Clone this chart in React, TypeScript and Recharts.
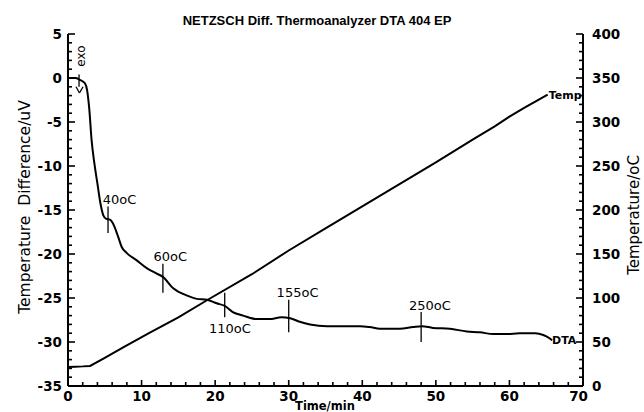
import React from "react";
import {
  ComposedChart,
  Line,
  XAxis,
  YAxis,
  ReferenceLine,
  ReferenceDot,
} from "recharts";

// DTA signal (uV) vs time (min)
const dtaTime = [
  0, 1, 1.6, 2.3, 2.6, 2.9, 3.2, 3.6, 4.0, 4.4, 4.8, 5.2, 5.7, 6.1, 6.8, 7.3,
  8.0, 9.3, 10.7, 12.0, 12.9, 14.3, 16.1, 17.5, 18.9, 20.2, 21.3, 22.4, 23.8,
  25.6, 27.4, 29.0, 30.2, 31.5, 32.9, 35.2, 37.4, 39.7, 41.0, 42.4, 45.1, 46.9,
  48.1, 49.6, 51.9, 54.2, 56.0, 57.8, 59.6, 61.4, 63.5, 64.6, 65.5, 65.8,
];
const dtaValue = [
  0.0, 0.0, -0.2, -0.6, -1.4, -3.6, -7.0, -9.8, -12.0, -14.2, -15.6, -16.0,
  -16.1, -16.5, -18.0, -19.2, -19.9, -20.7, -21.6, -22.2, -22.6, -23.9, -24.7,
  -25.1, -25.2, -25.6, -25.9, -26.6, -27.0, -27.4, -27.4, -27.2, -27.3, -27.7,
  -28.0, -28.2, -28.2, -28.2, -28.3, -28.5, -28.5, -28.3, -28.2, -28.4, -28.5,
  -28.8, -28.9, -29.1, -29.1, -29.0, -29.0, -29.2, -29.6, -29.8,
];

// furnace temperature (oC) vs time (min)
const tempTime = [0, 1, 2, 3, 5, 7.5, 11, 15, 19, 25, 30, 35, 40, 45, 50, 55, 58, 60, 62, 65.2];
const tempValue = [21.5, 22, 22.3, 22.8, 32, 44, 60, 78, 98, 127, 154, 179, 204, 229, 254, 280, 295, 306, 316, 331];

// peak markers: time, top/bottom of marker (uV), label and its anchor
const markTime = [5.44, 12.9, 21.3, 30.0, 48.0];
const markTop = [-14.6, -21.1, -24.4, -25.2, -26.6];
const markBottom = [-17.6, -24.4, -27.2, -28.9, -30.0];
const markLabel = ["40oC", "60oC", "110oC", "155oC", "250oC"];
const markLabelTime = [7.0, 13.9, 22.0, 31.2, 49.2];
const markLabelValue = [-13.75, -20.3, -28.4, -24.4, -25.8];

const xTicks = Array.from({ length: 36 }, (_, i) => i * 2);
const dtaTicks = Array.from({ length: 41 }, (_, i) => -35 + i);
const tempTicks = Array.from({ length: 41 }, (_, i) => i * 10);

const dtaData = dtaTime.map((t, i) => ({ t, dta: dtaValue[i] }));
const tempData = tempTime.map((t, i) => ({ t, temp: tempValue[i] }));

const tickFont = { fontFamily: "DejaVu Sans", fontWeight: 700, fontSize: 13.5 };

function BottomTick({ x, y, payload }: any) {
  const v = payload.value;
  const major = v % 10 === 0;
  return (
    <g>
      <line x1={x} x2={x} y1={y} y2={y - (major ? 6 : 4)} stroke="#000" strokeWidth={1.6} />
      {major && (
        <text
          x={v === 70 ? x + 5 : x}
          y={y + 10}
          dy="0.35em"
          textAnchor={v === 70 ? "end" : "middle"}
          fill="#000"
          {...tickFont}
        >
          {v}
        </text>
      )}
    </g>
  );
}

function LeftTick({ x, y, payload }: any) {
  const v = payload.value;
  const major = v % 5 === 0;
  return (
    <g>
      <line x1={x} x2={x + (major ? 7 : 4)} y1={y} y2={y} stroke="#000" strokeWidth={1.6} />
      {major && (
        <text x={x - 6} y={y} dy="0.35em" textAnchor="end" fill="#000" {...tickFont}>
          {v}
        </text>
      )}
    </g>
  );
}

function RightTick({ x, y, payload }: any) {
  const v = payload.value;
  const major = v % 50 === 0;
  return (
    <g>
      <line x1={x} x2={x - (major ? 7 : 4)} y1={y} y2={y} stroke="#000" strokeWidth={1.6} />
      {major && (
        <text x={x + 9} y={y} dy="0.35em" textAnchor="start" fill="#000" {...tickFont}>
          {v}
        </text>
      )}
    </g>
  );
}

const annFont = { fontFamily: "DejaVu Sans", fontSize: 13, fill: "#000" };

export default function App() {
  return (
    <div style={{ position: "absolute", left: 0, top: 0, width: 644, height: 412, background: "#fff" }}>
      <ComposedChart width={644} height={412} margin={{ top: 34, right: 0, bottom: 0, left: 0 }}>
        <XAxis
          type="number"
          dataKey="t"
          domain={[0, 70]}
          ticks={xTicks}
          interval={0}
          height={26}
          tickSize={0}
          tickMargin={0}
          tickLine={false}
          axisLine={{ stroke: "#000", strokeWidth: 2 }}
          tick={BottomTick}
        />
        <YAxis
          yAxisId="dta"
          orientation="left"
          domain={[-35, 5]}
          ticks={dtaTicks}
          interval={0}
          width={68}
          tickSize={0}
          tickMargin={0}
          tickLine={false}
          axisLine={{ stroke: "#000", strokeWidth: 2 }}
          tick={LeftTick}
        />
        <YAxis
          yAxisId="temp"
          orientation="right"
          domain={[0, 400]}
          ticks={tempTicks}
          interval={0}
          width={61}
          tickSize={0}
          tickMargin={0}
          tickLine={false}
          axisLine={{ stroke: "#000", strokeWidth: 2 }}
          tick={RightTick}
        />
        <Line
          yAxisId="temp"
          data={tempData}
          dataKey="temp"
          type="linear"
          stroke="#000"
          strokeWidth={2}
          dot={false}
          isAnimationActive={false}
        />
        <Line
          yAxisId="dta"
          data={dtaData}
          dataKey="dta"
          type="monotone"
          stroke="#000"
          strokeWidth={2}
          dot={false}
          isAnimationActive={false}
        />
        {markTime.map((t, i) => (
          <ReferenceLine
            key={"m" + i}
            yAxisId="dta"
            segment={[
              { x: t, y: markTop[i] },
              { x: t, y: markBottom[i] },
            ]}
            stroke="#000"
            strokeWidth={1.3}
          />
        ))}
        {markLabel.map((s, i) => (
          <ReferenceDot
            key={"l" + i}
            yAxisId="dta"
            x={markLabelTime[i]}
            y={markLabelValue[i]}
            r={0}
            fill="none"
            stroke="none"
            label={{ value: s, position: "center", ...annFont }}
          />
        ))}
        {/* exo marker */}
        <ReferenceLine
          yAxisId="dta"
          segment={[
            { x: 1.5, y: 0.4 },
            { x: 1.5, y: -1.0 },
          ]}
          stroke="#000"
          strokeWidth={1.3}
        />
        <ReferenceLine
          yAxisId="dta"
          segment={[
            { x: 1.09, y: -1.0 },
            { x: 1.56, y: -1.7 },
          ]}
          stroke="#000"
          strokeWidth={1.3}
        />
        <ReferenceLine
          yAxisId="dta"
          segment={[
            { x: 1.56, y: -1.7 },
            { x: 2.04, y: -1.0 },
          ]}
          stroke="#000"
          strokeWidth={1.3}
        />
        <ReferenceDot
          yAxisId="dta"
          x={1.77}
          y={2.5}
          r={0}
          fill="none"
          stroke="none"
          label={{ value: "exo", position: "center", angle: -90, ...annFont, fontSize: 12 }}
        />
        <ReferenceDot
          yAxisId="temp"
          x={tempTime[tempTime.length - 1]}
          y={tempValue[tempValue.length - 1]}
          r={0}
          fill="none"
          stroke="none"
          label={{ value: "Temp", position: "right", offset: 1, fontFamily: "DejaVu Sans", fontWeight: 700, fontSize: 11, fill: "#000" }}
        />
        <ReferenceDot
          yAxisId="dta"
          x={dtaTime[dtaTime.length - 1]}
          y={dtaValue[dtaValue.length - 1]}
          r={0}
          fill="none"
          stroke="none"
          label={{ value: "DTA", position: "right", offset: 0, fontFamily: "DejaVu Sans", fontWeight: 700, fontSize: 11, fill: "#000" }}
        />
      </ComposedChart>
      <svg
        width={644}
        height={412}
        style={{ position: "absolute", left: 0, top: 0, pointerEvents: "none" }}
      >
        <text x={317} y={20} dy="0.35em" textAnchor="middle" fontFamily="Liberation Sans" fontWeight={700} fontSize={13} fill="#000">
          NETZSCH Diff. Thermoanalyzer DTA 404 EP
        </text>
        <text
          x={0}
          y={0}
          transform="translate(25,207) rotate(-90)"
          dy="0.35em"
          textAnchor="middle"
          fontFamily="DejaVu Sans"
          fontSize={15.5}
          fill="#000"
          style={{ whiteSpace: "pre" }}
        >
          {"Temperature  Difference/uV"}
        </text>
        <text
          x={0}
          y={0}
          transform="translate(634,215) rotate(-90)"
          dy="0.35em"
          textAnchor="middle"
          fontFamily="DejaVu Sans"
          fontSize={15}
          fill="#000"
        >
          Temperature/oC
        </text>
        <text x={325} y={406} dy="0.35em" textAnchor="middle" fontFamily="DejaVu Sans" fontWeight={700} fontSize={11.5} fill="#000">
          Time/min
        </text>
      </svg>
    </div>
  );
}
